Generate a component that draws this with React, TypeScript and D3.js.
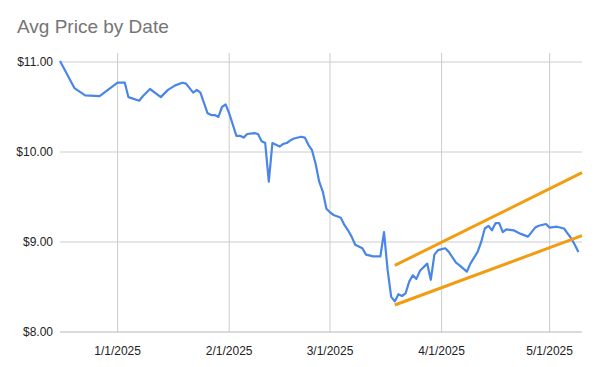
import * as d3 from "d3";

// daily avg price (vertices only)
const dates = [
  "2024-12-16", "2024-12-20", "2024-12-23", "2024-12-27", "2025-01-01", "2025-01-03", "2025-01-04",
  "2025-01-07", "2025-01-08", "2025-01-10", "2025-01-13", "2025-01-15", "2025-01-17", "2025-01-19",
  "2025-01-20", "2025-01-22", "2025-01-23", "2025-01-24", "2025-01-26", "2025-01-27", "2025-01-28",
  "2025-01-29", "2025-01-30", "2025-01-31", "2025-02-01", "2025-02-03", "2025-02-04", "2025-02-05",
  "2025-02-06", "2025-02-08", "2025-02-09", "2025-02-10", "2025-02-11", "2025-02-12", "2025-02-13",
  "2025-02-15", "2025-02-16", "2025-02-17", "2025-02-18", "2025-02-19", "2025-02-21", "2025-02-22",
  "2025-02-23", "2025-02-24", "2025-02-25", "2025-02-26", "2025-02-27", "2025-02-28", "2025-03-01",
  "2025-03-02", "2025-03-04", "2025-03-05", "2025-03-06", "2025-03-07", "2025-03-08", "2025-03-10",
  "2025-03-11", "2025-03-13", "2025-03-14", "2025-03-15", "2025-03-16", "2025-03-17", "2025-03-18",
  "2025-03-19", "2025-03-20", "2025-03-21", "2025-03-22", "2025-03-23", "2025-03-24", "2025-03-25",
  "2025-03-26", "2025-03-28", "2025-03-29", "2025-03-30", "2025-03-31", "2025-04-02", "2025-04-03",
  "2025-04-05", "2025-04-06", "2025-04-08", "2025-04-09", "2025-04-11", "2025-04-12", "2025-04-13",
  "2025-04-14", "2025-04-15", "2025-04-16", "2025-04-17", "2025-04-18", "2025-04-19", "2025-04-21",
  "2025-04-23", "2025-04-25", "2025-04-27", "2025-04-28", "2025-04-30", "2025-05-01", "2025-05-03",
  "2025-05-05", "2025-05-07", "2025-05-08", "2025-05-09",
];
const avgPrice = [
  11.01, 10.71, 10.63, 10.62, 10.77, 10.77, 10.61,
  10.57, 10.62, 10.70, 10.61, 10.69, 10.74, 10.77,
  10.76, 10.66, 10.69, 10.66, 10.43, 10.41, 10.41,
  10.39, 10.50, 10.53, 10.43, 10.18, 10.18, 10.16,
  10.20, 10.21, 10.20, 10.12, 10.10, 9.67, 10.10,
  10.06, 10.09, 10.10, 10.13, 10.15, 10.17, 10.16,
  10.08, 10.02, 9.87, 9.67, 9.56, 9.37, 9.33,
  9.30, 9.27, 9.19, 9.13, 9.06, 8.97, 8.93,
  8.86, 8.84, 8.84, 8.84, 9.11, 8.69, 8.39,
  8.34, 8.42, 8.40, 8.43, 8.56, 8.63, 8.59,
  8.68, 8.76, 8.58, 8.86, 8.91, 8.93, 8.89,
  8.77, 8.74, 8.67, 8.76, 8.89, 9.00, 9.15,
  9.18, 9.13, 9.21, 9.21, 9.11, 9.14, 9.13,
  9.09, 9.06, 9.16, 9.18, 9.20, 9.16, 9.17,
  9.15, 9.04, 8.97, 8.89,
];

// channel lines drawn over the chart
const trendDates = ["2025-03-19", "2025-05-10"];
const upperTrend = [8.74, 9.77];
const lowerTrend = [8.30, 9.07];

const yTicks = [8, 9, 10, 11];
const xTicks = ["2025-01-01", "2025-02-01", "2025-03-01", "2025-04-01", "2025-05-01"];

const parse = d3.timeParse("%Y-%m-%d");
const font = "Arial, 'Liberation Sans', sans-serif";

export default function App() {
  const width = 597;
  const height = 367;
  const plot = { left: 60, right: 582, top: 53, bottom: 332 };

  const x = d3
    .scaleTime()
    .domain([parse("2024-12-16"), parse("2025-05-10")])
    .range([plot.left, plot.right]);
  const y = d3.scaleLinear().domain([8, 11]).range([plot.bottom, 62]);

  const data = dates.map((d, i) => ({ date: parse(d), value: avgPrice[i] }));

  const line = d3
    .line<{ date: Date; value: number }>()
    .x((d) => x(d.date))
    .y((d) => y(d.value));

  const trend = (vals: number[]) =>
    line(trendDates.map((d, i) => ({ date: parse(d), value: vals[i] })));

  const fmtX = d3.timeFormat("%-m/%-d/%Y");

  return (
    <svg
      width={width}
      height={height}
      style={{ position: "absolute", left: 0, top: 0, background: "#fff" }}
    >
      <text x={17} y={33} fontFamily={font} fontSize={19} fill="#757575">
        Avg Price by Date
      </text>

      {/* vertical grid */}
      {xTicks.map((t) => (
        <line
          key={t}
          x1={x(parse(t))}
          x2={x(parse(t))}
          y1={plot.top}
          y2={plot.bottom}
          stroke="#cccccc"
        />
      ))}
      {/* horizontal grid */}
      {yTicks.map((t) => (
        <line
          key={t}
          x1={plot.left}
          x2={plot.right}
          y1={y(t)}
          y2={y(t)}
          stroke={t === 8 ? "#b7b7b7" : "#cccccc"}
        />
      ))}

      {yTicks.map((t) => (
        <text
          key={t}
          x={53}
          y={y(t) + 4}
          textAnchor="end"
          fontFamily={font}
          fontSize={12}
          fill="#222"
        >
          {d3.format("$.2f")(t)}
        </text>
      ))}
      {xTicks.map((t) => (
        <text
          key={t}
          x={x(parse(t))}
          y={355}
          textAnchor="middle"
          fontFamily={font}
          fontSize={12}
          fill="#222"
        >
          {fmtX(parse(t))}
        </text>
      ))}

      <path
        d={line(data)}
        fill="none"
        stroke="#4a86e8"
        strokeWidth={2.2}
        strokeLinejoin="round"
      />
      <path d={trend(upperTrend)} fill="none" stroke="#f29c12" strokeWidth={3} />
      <path d={trend(lowerTrend)} fill="none" stroke="#f29c12" strokeWidth={3} />
    </svg>
  );
}
